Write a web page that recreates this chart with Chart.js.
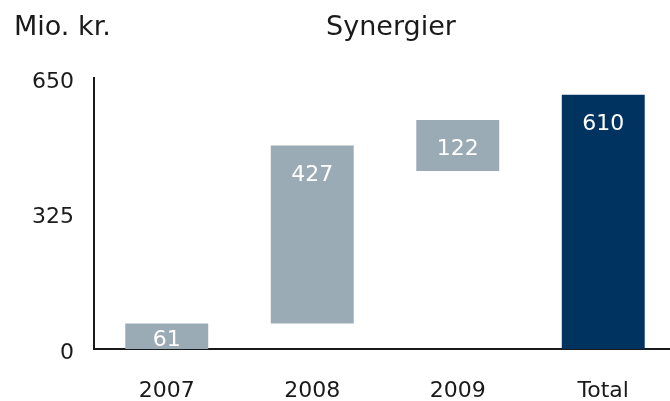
<!DOCTYPE html>
<html>
<head>
<meta charset="utf-8">
<script src="https://cdn.jsdelivr.net/npm/chart.js@4"></script>
<style>
  html, body { margin: 0; padding: 0; background: #fff; overflow: hidden; }
  #wrap { width: 670px; height: 401px; overflow: hidden; }
</style>
</head>
<body>
<div id="wrap"><canvas id="chart" width="676" height="401"></canvas></div>
<script>
// data
const categories = ['2007', '2008', '2009', 'Total'];
const bases = [0, 61, 427, 0];
const values = [61, 427, 122, 610];
const yTicks = [0, 325, 650];
const barColors = ['#9babb5', '#9babb5', '#9babb5', '#003360'];

const textColor = '#1a1a1a';
const fontFamily = '"DejaVu Sans", sans-serif';

// bar labels inside the bars
const barLabelPlugin = {
    id: 'barLabels',
    afterDatasetsDraw(chart) {
        const ctx = chart.ctx;
        const meta = chart.getDatasetMeta(0);
        ctx.save();
        ctx.fillStyle = '#ffffff';
        ctx.font = '22px ' + fontFamily;
        ctx.textAlign = 'center';
        ctx.textBaseline = 'middle';
        meta.data.forEach((bar, i) => {
            const top = Math.min(bar.y, bar.base);
            const bottom = Math.max(bar.y, bar.base);
            const y = Math.min(top + 30, (top + bottom) / 2 + 4);
            ctx.fillText(String(values[i]), bar.x, y);
        });
        ctx.restore();
    }
};

// header texts
const headerPlugin = {
    id: 'header',
    afterDraw(chart) {
        const ctx = chart.ctx;
        ctx.save();
        ctx.fillStyle = textColor;
        ctx.font = '27px ' + fontFamily;
        ctx.textBaseline = 'alphabetic';
        ctx.textAlign = 'left';
        ctx.fillText('Mio. kr.', 14, 35);
        ctx.textAlign = 'center';
        ctx.fillText('Synergier', 391, 35);
        ctx.restore();
    }
};

const ctx = document.getElementById('chart').getContext('2d');
new Chart(ctx, {
    type: 'bar',
    data: {
        labels: categories,
        datasets: [{
            data: categories.map((c, i) => [bases[i], bases[i] + values[i]]),
            backgroundColor: barColors,
            borderWidth: 0,
            barPercentage: 0.57,
            categoryPercentage: 1.0
        }]
    },
    options: {
        responsive: false,
        animation: false,
        layout: { padding: { top: 78, left: 0, right: 0, bottom: 0 } },
        plugins: {
            legend: { display: false },
            tooltip: { enabled: false }
        },
        scales: {
            x: {
                grid: { display: false, drawTicks: false },
                border: { display: true, color: '#1a1a1a', width: 2 },
                ticks: { color: textColor, font: { family: fontFamily, size: 22 }, padding: 29 },
                afterFit(scale) { scale.height = 52; }
            },
            y: {
                min: 0,
                max: 650,
                grid: { display: false, drawTicks: false },
                border: { display: true, color: '#1a1a1a', width: 2 },
                afterBuildTicks(scale) { scale.ticks = yTicks.map(v => ({ value: v })); },
                ticks: { color: textColor, font: { family: fontFamily, size: 22 }, padding: 20, labelOffset: 4 },
                afterFit(scale) { scale.width = 94; }
            }
        }
    },
    plugins: [barLabelPlugin, headerPlugin]
});
</script>
</body>
</html>
